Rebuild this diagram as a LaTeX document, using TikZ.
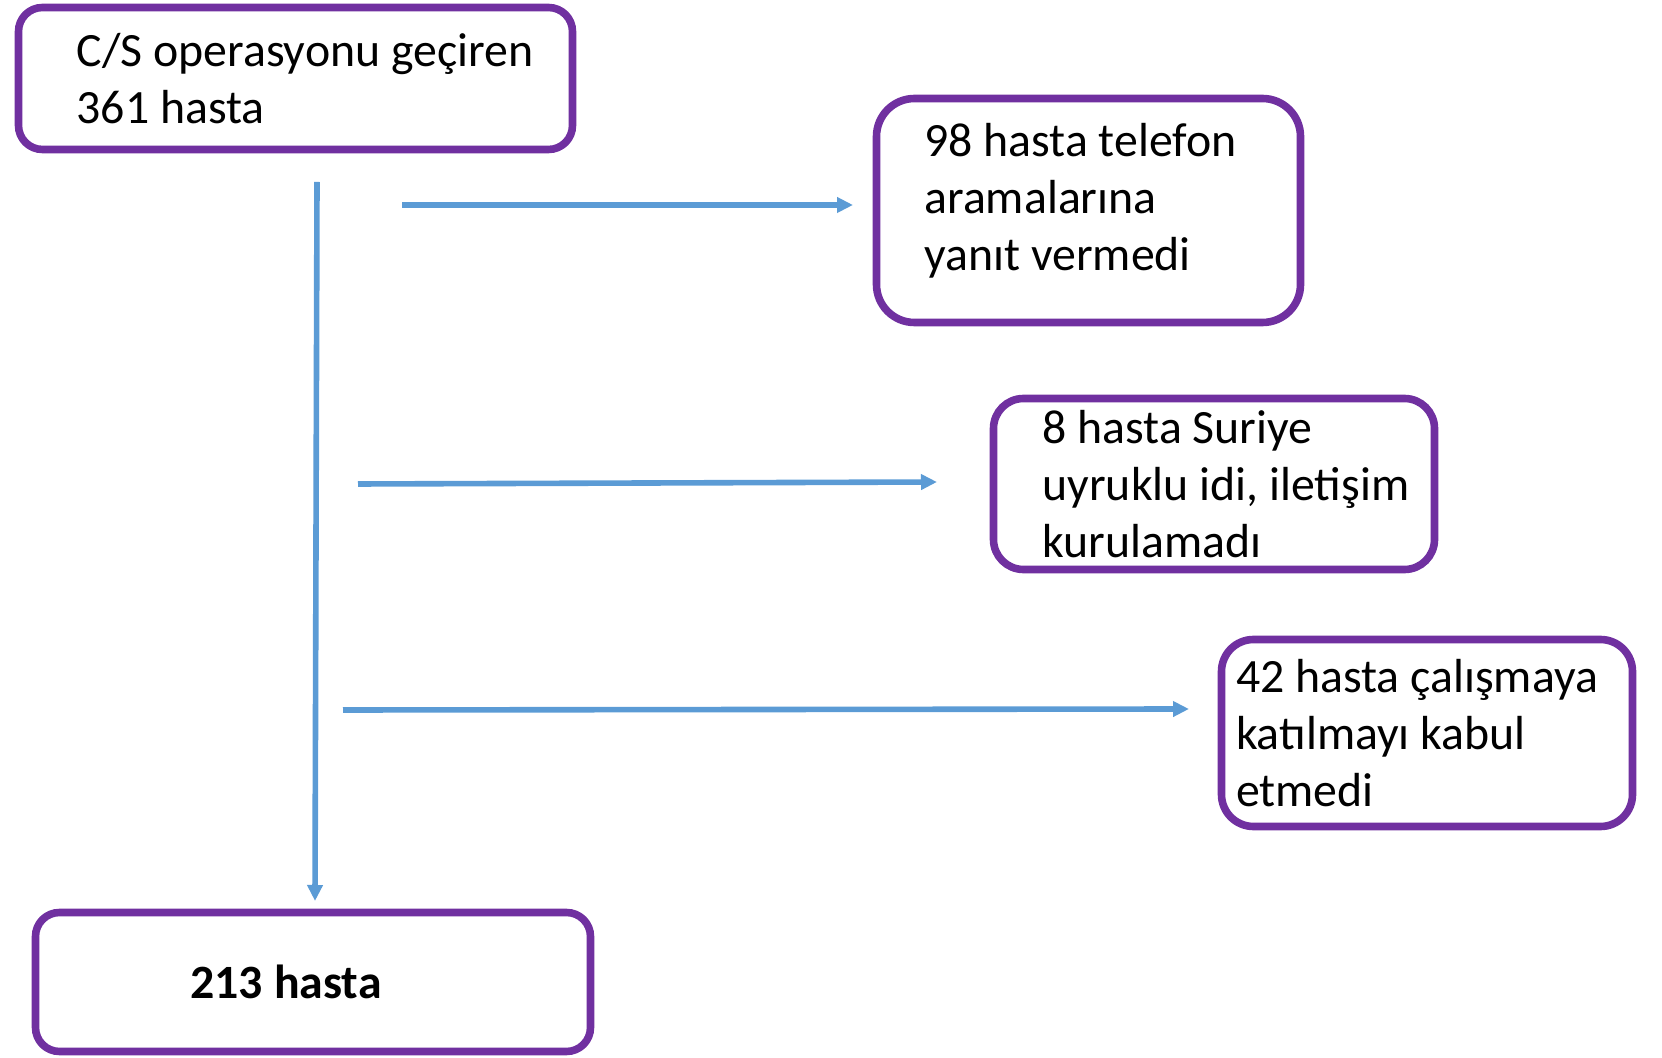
\documentclass[tikz,border=0pt]{standalone}
\usepackage{fontspec}
\setmainfont{Carlito}
\usetikzlibrary{arrows.meta}
\definecolor{boxpurple}{HTML}{7030A0}
\definecolor{flowblue}{HTML}{5B9BD5}
\begin{document}
\begin{tikzpicture}[x=0.5pt,y=-0.5pt,
  flowbox/.style={draw=boxpurple,line width=3.8pt,fill=white,rounded corners=#1,align=left,inner sep=0pt,font=\fontsize{23.9}{28.5}\selectfont},
  flow/.style={draw=flowblue,line width=2.8pt,-{Triangle[length=8pt,width=7.5pt]}}]
            \useasboundingbox (0,0) rectangle (1662,1058);
            \node[flowbox=12pt,minimum width=277pt,minimum height=71pt] (start) at (295.5,78.5) {\hspace*{9.5pt}C/S operasyonu geçiren\\\hspace*{9.5pt}361 hasta};
            \node[flowbox=19pt,minimum width=212pt,minimum height=112pt] (noanswer) at (1088.5,210.5) {98 hasta telefon\hspace*{8pt}\\aramalarına\\yanıt vermedi\\[-15pt]\mbox{}};
            \node[flowbox=15pt,minimum width=220.5pt,minimum height=85.5pt] (syria) at (1214,484) {\hspace*{12pt}8 hasta Suriye\\\hspace*{12pt}uyruklu idi, iletişim\\\hspace*{12pt}kurulamadı};
            \node[flowbox=16pt,minimum width=205.5pt,minimum height=93.5pt] (refused) at (1427,733) {42 hasta çalışmaya\hspace*{10pt}\\katılmayı kabul\\etmedi};
            \node[flowbox=12pt,minimum width=277.5pt,minimum height=69.5pt] (final) at (313,982) {\textbf{213 hasta}\hspace*{27pt}};

            \coordinate (v0) at (317,182);
            \coordinate (v1) at (315,901);
            \coordinate (a0) at (402,205);
            \coordinate (a1) at (853,205);
            \coordinate (b0) at (358,484);
            \coordinate (b1) at (937,482);
            \coordinate (c0) at (343,710);
            \coordinate (c1) at (1189,709);

            \draw[flow] (v0)--(v1);
            \draw[flow] (a0)--(a1);
            \draw[flow] (b0)--(b1);
            \draw[flow] (c0)--(c1);
        \end{tikzpicture}
\end{document}
